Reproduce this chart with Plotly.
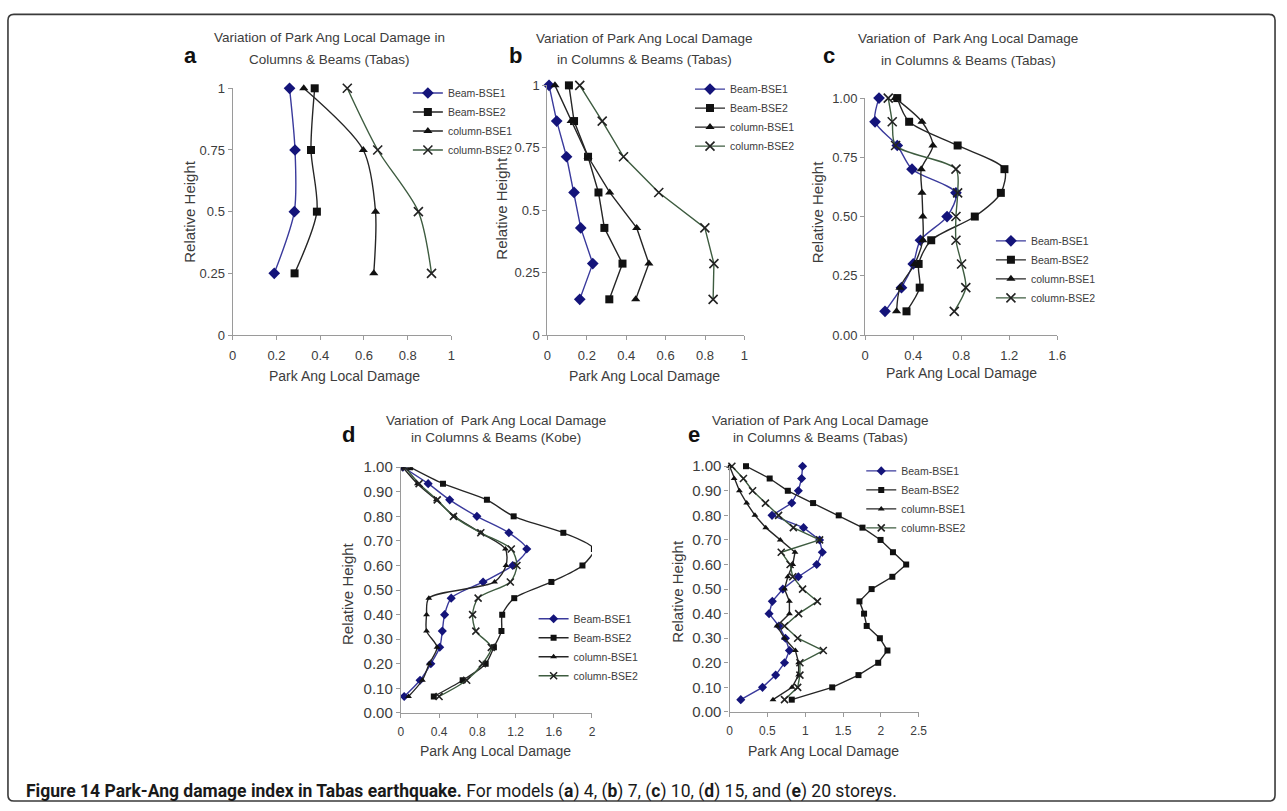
import plotly.graph_objects as go

W, H = 1287, 811

SERIES = ["Beam-BSE1", "Beam-BSE2", "column-BSE1", "column-BSE2"]

# ---- (a) 4 storeys ----
h_a = [1, 0.75, 0.5, 0.25]
a_beam1 = [0.26, 0.285, 0.282, 0.19]
a_beam2 = [0.375, 0.358, 0.385, 0.283]
a_col1 = [0.325, 0.597, 0.653, 0.645]
a_col2 = [0.524, 0.663, 0.849, 0.909]

# ---- (b) 7 storeys ----
h_b = [1, 0.857, 0.714, 0.571, 0.429, 0.286, 0.143]
b_beam1 = [0.008, 0.047, 0.097, 0.135, 0.169, 0.23, 0.164]
b_beam2 = [0.109, 0.135, 0.206, 0.259, 0.289, 0.381, 0.314]
b_col1 = [0.038, 0.12, 0.206, 0.316, 0.453, 0.515, 0.448]
b_col2 = [0.164, 0.278, 0.386, 0.565, 0.799, 0.845, 0.841]

# ---- (c) 10 storeys ----
h_c = [1.0, 0.9, 0.8, 0.7, 0.6, 0.5, 0.4, 0.3, 0.2, 0.1]
c_beam1 = [0.115, 0.082, 0.267, 0.39, 0.756, 0.682, 0.46, 0.40, 0.302, 0.165]
c_beam2 = [0.267, 0.366, 0.77, 1.16, 1.13, 0.913, 0.55, 0.445, 0.454, 0.344]
c_col1 = [0.25, 0.473, 0.564, 0.467, 0.473, 0.48, 0.48, 0.412, 0.289, 0.261]
c_col2 = [0.192, 0.225, 0.253, 0.756, 0.77, 0.756, 0.756, 0.803, 0.838, 0.742]

# ---- (d) 15 storeys (Kobe) ----
h_d = [1.0, 0.933, 0.867, 0.8, 0.733, 0.667, 0.6, 0.533, 0.467, 0.4,
       0.333, 0.267, 0.2, 0.133, 0.067]
d_beam1 = [0.02, 0.285, 0.51, 0.795, 1.13, 1.317, 1.17, 0.86, 0.526, 0.457,
           0.433, 0.406, 0.313, 0.2, 0.034]
d_beam2 = [0.096, 0.44, 0.9, 1.18, 1.70, 2.02, 1.90, 1.575, 1.186, 1.06,
           1.052, 0.973, 0.887, 0.646, 0.344]
d_col1 = [0.02, 0.172, 0.37, 0.56, 0.836, 1.094, 1.10, 0.98, 0.292, 0.268,
          0.268, 0.378, 0.296, 0.224, 0.079]
d_col2 = [0.045, 0.19, 0.38, 0.55, 0.836, 1.155, 1.214, 1.145, 0.808, 0.75,
          0.784, 0.946, 0.853, 0.688, 0.399]

# ---- (e) 20 storeys ----
h_e = [1.0, 0.95, 0.9, 0.85, 0.8, 0.75, 0.7, 0.65, 0.6, 0.55,
       0.5, 0.45, 0.4, 0.35, 0.3, 0.25, 0.2, 0.15, 0.1, 0.05]
e_beam1 = [0.965, 0.952, 0.909, 0.822, 0.561, 0.978, 1.19, 1.226, 1.152, 0.909,
           0.704, 0.565, 0.522, 0.652, 0.739, 0.791, 0.726, 0.609, 0.435, 0.148]
e_beam2 = [0.217, 0.53, 0.77, 1.104, 1.443, 1.757, 1.996, 2.16, 2.335, 2.152,
           1.878, 1.717, 1.778, 1.813, 1.987, 2.087, 1.965, 1.704, 1.357, 0.822]
e_col1 = [0.0, 0.06, 0.13, 0.226, 0.335, 0.478, 0.67, 0.865, 0.835, 0.77,
          0.726, 0.791, 0.791, 0.626, 0.726, 0.87, 0.913, 0.913, 0.826, 0.574]
e_col2 = [0.03, 0.183, 0.304, 0.474, 0.648, 0.843, 1.19, 0.683, 0.8, 0.835,
          0.965, 1.161, 0.913, 0.726, 0.9, 1.239, 0.93, 0.93, 0.9, 0.726]

# tick labels
ticks_01 = [0, 0.2, 0.4, 0.6, 0.8, 1]
ticks_01_text = ["0", "0.2", "0.4", "0.6", "0.8", "1"]
ticks_c = [0, 0.4, 0.8, 1.2, 1.6]
ticks_c_text = ["0", "0.4", "0.8", "1.2", "1.6"]
ticks_d = [0, 0.4, 0.8, 1.2, 1.6, 2]
ticks_d_text = ["0", "0.4", "0.8", "1.2", "1.6", "2"]
ticks_e = [0, 0.5, 1, 1.5, 2, 2.5]
ticks_e_text = ["0", "0.5", "1", "1.5", "2", "2.5"]
yticks_q = [0, 0.25, 0.5, 0.75, 1]
yticks_q_text = ["0", "0.25", "0.5", "0.75", "1"]
yticks_c = [0, 0.25, 0.5, 0.75, 1]
yticks_c_text = ["0.00", "0.25", "0.50", "0.75", "1.00"]
yticks_t = [i / 10 for i in range(11)]
yticks_t_text = ["%.2f" % v for v in yticks_t]

TITLE_1 = "Variation of Park Ang Local Damage in"
TITLE_2 = "Columns & Beams (Tabas)"
TITLE_B1 = "Variation of Park Ang Local Damage"
TITLE_B2 = "in Columns & Beams (Tabas)"
TITLE_C1 = "Variation of\u00a0\u00a0Park Ang Local Damage"
TITLE_D2 = "in Columns & Beams (Kobe)"
X_TITLE = "Park Ang Local Damage"
Y_TITLE = "Relative Height"

ARIAL = "Liberation Sans, Arial, sans-serif"
TXT = "#3c3c3c"
AXIS = "#9a9a9a"

STYLE = {
    "Beam-BSE1": dict(line="#3a3a9c", marker="#14147a", symbol="diamond"),
    "Beam-BSE2": dict(line="#262626", marker="#111111", symbol="square"),
    "column-BSE1": dict(line="#262626", marker="#111111", symbol="triangle-up"),
    "column-BSE2": dict(line="#3e5c40", marker="#222222", symbol="x-thin"),
}


def px(x):
    return x / W


def py(y):
    return 1 - y / H


panels = [
    dict(letter="a", heights=h_a, data=[a_beam1, a_beam2, a_col1, a_col2],
         box=(231, 452, 81, 333), xr=[0, 1], xt=(ticks_01, ticks_01_text),
         yt=(yticks_q, yticks_q_text), shape="spline", msize=8,
         tfont=13, xtfont=13, titles=(TITLE_1, TITLE_2), tc=(329, 29, 52),
         lab=(188, 47), xtitle=(344, 375), ytitle=(188, 207),
         leg=(448, 81)),
    dict(letter="b", heights=h_b, data=[b_beam1, b_beam2, b_col1, b_col2],
         box=(549, 748, 78, 333), xr=[0, 1], xt=(ticks_01, ticks_01_text),
         yt=(yticks_q, yticks_q_text), shape="linear", msize=8,
         tfont=13, xtfont=13, titles=(TITLE_B1, TITLE_B2), tc=(647, 30, 52),
         lab=(517, 47), xtitle=(647, 375), ytitle=(503, 203),
         leg=(733, 77)),
    dict(letter="c", heights=h_c, data=[c_beam1, c_beam2, c_col1, c_col2],
         box=(870, 1064, 91, 333), xr=[0, 1.6], xt=(ticks_c, ticks_c_text),
         yt=(yticks_c, yticks_c_text), shape="spline", msize=8,
         tfont=13, xtfont=13, titles=(TITLE_C1, TITLE_B2), tc=(974, 30, 53),
         lab=(833, 48), xtitle=(967, 372), ytitle=(822, 207),
         leg=(1037, 232)),
    dict(letter="d", heights=h_d, data=[d_beam1, d_beam2, d_col1, d_col2],
         box=(401, 594, 468, 719), xr=[0, 2], xt=(ticks_d, ticks_d_text),
         yt=(yticks_t, yticks_t_text), shape="spline", msize=6,
         tfont=15, xtfont=12, titles=(TITLE_C1, TITLE_D2), tc=(497, 420, 438),
         lab=(348, 435), xtitle=(497, 758), ytitle=(347, 597),
         leg=(575, 618)),
    dict(letter="e", heights=h_e, data=[e_beam1, e_beam2, e_col1, e_col2],
         box=(733, 924, 467, 718), xr=[0, 2.5], xt=(ticks_e, ticks_e_text),
         yt=(yticks_t, yticks_t_text), shape="linear", msize=6,
         tfont=15, xtfont=12, titles=(TITLE_B1, TITLE_B2), tc=(825, 420, 438),
         lab=(697, 435), xtitle=(828, 758), ytitle=(680, 595),
         leg=(906, 467)),
]

fig = go.Figure()
annotations = []
layout = {}

for i, p in enumerate(panels, start=1):
    sfx = "" if i == 1 else str(i)
    xa, ya = "x" + sfx, "y" + sfx
    legname = "legend" + sfx
    x0, x1, yt_px, yb_px = p["box"]

    for name, xs in zip(SERIES, p["data"]):
        st = STYLE[name]
        marker = dict(symbol=st["symbol"], size=p["msize"] + (1 if st["symbol"] == "diamond" else 0),
                      color=st["marker"], line=dict(width=0))
        if st["symbol"] == "x-thin":
            marker = dict(symbol="x-thin", size=p["msize"] + 1,
                          line=dict(width=1.6, color=st["marker"]))
        fig.add_trace(go.Scatter(
            x=xs, y=p["heights"], name=name, mode="lines+markers",
            xaxis=xa, yaxis=ya, legend=legname,
            line=dict(color=st["line"], width=1.4, shape=p["shape"], smoothing=0.8),
            marker=marker, cliponaxis=(p["letter"] == "d"),
        ))

    layout["xaxis" + sfx] = dict(
        domain=[px(x0), px(x1)], anchor=ya, range=p["xr"],
        tickvals=p["xt"][0], ticktext=p["xt"][1],
        showline=True, linecolor=AXIS, linewidth=1.3, ticks="outside",
        ticklen=4, tickcolor=AXIS, tickwidth=1.2, showgrid=False, zeroline=False,
        tickfont=dict(family=ARIAL, size=p["xtfont"], color=TXT),
        ticklabelstandoff=4, fixedrange=True,
    )
    layout["yaxis" + sfx] = dict(
        domain=[py(yb_px), py(yt_px)], anchor=xa, range=[0, 1],
        tickvals=p["yt"][0], ticktext=p["yt"][1],
        showline=True, linecolor=AXIS, linewidth=1.3, ticks="outside",
        ticklen=4, tickcolor=AXIS, tickwidth=1.2, showgrid=False, zeroline=False,
        tickfont=dict(family=ARIAL, size=p["tfont"], color=TXT),
        fixedrange=True,
    )
    layout[legname] = dict(
        x=px(p["leg"][0] - 40), y=py(p["leg"][1] - 10), xanchor="left", yanchor="top",
        bgcolor="rgba(0,0,0,0)", borderwidth=0, tracegroupgap=0,
        font=dict(family=ARIAL, size=10.5, color=TXT), itemclick=False,
    )

    tcx, ty1, ty2 = p["tc"]
    for txt, ty in ((p["titles"][0], ty1), (p["titles"][1], ty2)):
        annotations.append(dict(
            text=txt, x=px(tcx), y=py(ty), xref="paper", yref="paper",
            xanchor="center", yanchor="middle", showarrow=False,
            font=dict(family=ARIAL, size=13.5, color=TXT)))
    annotations.append(dict(
        text="<b>%s</b>" % p["letter"], x=px(p["lab"][0]), y=py(p["lab"][1]),
        xref="paper", yref="paper", xanchor="center", yanchor="middle",
        showarrow=False, font=dict(family=ARIAL, size=22, color="#111111")))
    annotations.append(dict(
        text=X_TITLE, x=px(p["xtitle"][0]), y=py(p["xtitle"][1]),
        xref="paper", yref="paper", xanchor="center", yanchor="middle",
        showarrow=False, font=dict(family=ARIAL, size=14, color=TXT)))
    annotations.append(dict(
        text=Y_TITLE, x=px(p["ytitle"][0]), y=py(p["ytitle"][1]),
        xref="paper", yref="paper", xanchor="center", yanchor="middle",
        textangle=-90, showarrow=False,
        font=dict(family=ARIAL, size=15, color=TXT)))

caption = ("<b>Figure 14 Park-Ang damage index in Tabas earthquake.</b> "
           "For models (<b>a</b>) 4, (<b>b</b>) 7, (<b>c</b>) 10, "
           "(<b>d</b>) 15, and (<b>e</b>) 20 storeys.")
annotations.append(dict(
    text=caption, x=px(20), y=py(799), xref="paper", yref="paper",
    xanchor="left", yanchor="middle", showarrow=False,
    font=dict(family="Roboto, Noto Sans, sans-serif", size=17.5, color="#1a1a1a")))

# rounded frame around the figure
L, T, R, B, r = 4, 5.5, 1284, 809, 6
rx, ry = r / W, r / H
frame = (f"M {px(L)+rx},{py(T)} L {px(R)-rx},{py(T)} Q {px(R)},{py(T)} {px(R)},{py(T)-ry} "
         f"L {px(R)},{py(B)+ry} Q {px(R)},{py(B)} {px(R)-rx},{py(B)} "
         f"L {px(L)+rx},{py(B)} Q {px(L)},{py(B)} {px(L)},{py(B)+ry} "
         f"L {px(L)},{py(T)-ry} Q {px(L)},{py(T)} {px(L)+rx},{py(T)} Z")

fig.update_layout(
    width=W, height=H, margin=dict(l=0, r=0, t=0, b=0),
    paper_bgcolor="white", plot_bgcolor="white",
    annotations=annotations,
    shapes=[dict(type="path", path=frame, xref="paper", yref="paper",
                 line=dict(color="#3a3a3a", width=1.6), fillcolor="rgba(0,0,0,0)")],
    **layout,
)

fig.write_html("out.html")
